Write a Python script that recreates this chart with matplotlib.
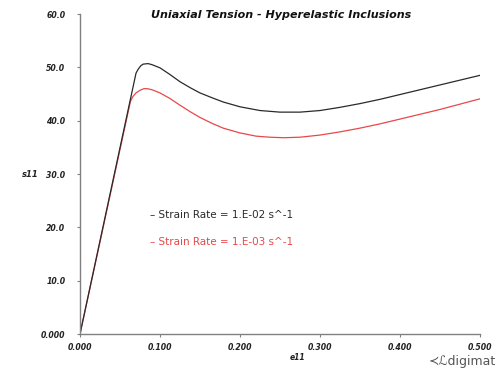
import matplotlib
matplotlib.use("Agg")
import matplotlib.pyplot as plt

# strain e11 and stress s11 values
e_black = [0.0, 0.070, 0.0725, 0.076, 0.079, 0.085, 0.090, 0.100, 0.112, 0.125, 0.1375, 0.150,
           0.165, 0.179, 0.200, 0.225, 0.250, 0.275, 0.300, 0.325, 0.350, 0.375, 0.400, 0.425,
           0.450, 0.475, 0.500]
s_black = [0.0, 48.9, 49.6, 50.3, 50.6, 50.7, 50.5, 49.9, 48.7, 47.3, 46.2, 45.2,
           44.3, 43.5, 42.6, 41.9, 41.6, 41.6, 41.9, 42.5, 43.2, 44.0, 44.9, 45.8,
           46.7, 47.6, 48.5]

e_red = [0.0, 0.063, 0.066, 0.070, 0.075, 0.080, 0.084, 0.090, 0.100, 0.112, 0.125, 0.1375,
         0.150, 0.165, 0.179, 0.200, 0.220, 0.237, 0.255, 0.275, 0.300, 0.325, 0.350, 0.375,
         0.400, 0.425, 0.450, 0.475, 0.500]
s_red = [0.0, 43.6, 44.5, 45.2, 45.7, 46.0, 46.0, 45.8, 45.2, 44.2, 42.9, 41.7,
         40.6, 39.5, 38.6, 37.7, 37.1, 36.9, 36.8, 36.9, 37.3, 37.9, 38.6, 39.4,
         40.3, 41.2, 42.1, 43.1, 44.1]

x_ticks = [0.0, 0.1, 0.2, 0.3, 0.4, 0.5]
x_ticklabels = ["0.000", "0.100", "0.200", "0.300", "0.400", "0.500"]
y_ticks = [0, 10, 20, 30, 40, 50, 60]
y_ticklabels = ["0.000", "10.0", "20.0", "30.0", "40.0", "50.0", "60.0"]

title = "Uniaxial Tension - Hyperelastic Inclusions"
legend_labels = ["– Strain Rate = 1.E-02 s^-1", "– Strain Rate = 1.E-03 s^-1"]

fig = plt.figure(figsize=(4.98, 3.70), dpi=100)
ax = fig.add_axes([80/498, 36/370, 400/498, 320/370])

black_col = "#2a2a2a"
red_col = "#e8484a"
ax.plot(e_red, s_red, color=red_col, lw=0.9)
ax.plot(e_black, s_black, color=black_col, lw=0.9)

ax.set_xlim(0, 0.5)
ax.set_ylim(0, 60)
for s in ["top", "right"]:
    ax.spines[s].set_visible(False)
for s in ["left", "bottom"]:
    ax.spines[s].set_color("#808080")
    ax.spines[s].set_linewidth(1.0)

ax.set_xticks(x_ticks)
ax.set_xticklabels(x_ticklabels)
ax.set_yticks(y_ticks)
ax.set_yticklabels(y_ticklabels)
ax.tick_params(axis="both", direction="out", length=2.5, width=0.8, color="#808080",
               labelsize=5.6, pad=4)
ax.tick_params(axis="y", pad=8)
for lab in ax.get_xticklabels() + ax.get_yticklabels():
    lab.set_fontstyle("italic")
    lab.set_fontweight("bold")
    lab.set_color("#222222")

fig.text(281/498, 1 - 15/370, title, ha="center", va="center", fontsize=8,
         fontstyle="italic", fontweight="bold", color="#111111")
fig.text(30/498, 1 - 174/370, "s11", ha="center", va="center", fontsize=6,
         fontstyle="italic", fontweight="bold", color="#222222")
fig.text(298/498, 1 - 358/370, "e11", ha="center", va="center", fontsize=5.5,
         fontstyle="italic", fontweight="bold", color="#222222")

ax.text(150/498, 1 - 215/370, legend_labels[0], transform=fig.transFigure, ha="left",
        va="center", fontsize=7.5, color=black_col)
ax.text(150/498, 1 - 242/370, legend_labels[1], transform=fig.transFigure, ha="left",
        va="center", fontsize=7.5, color=red_col)

fig.text(496/498, 1 - 362/370, "≺ℒdigimat", ha="right", va="center", fontsize=9,
         color="#555555")

fig.savefig("out.png", dpi=100, facecolor="white")
